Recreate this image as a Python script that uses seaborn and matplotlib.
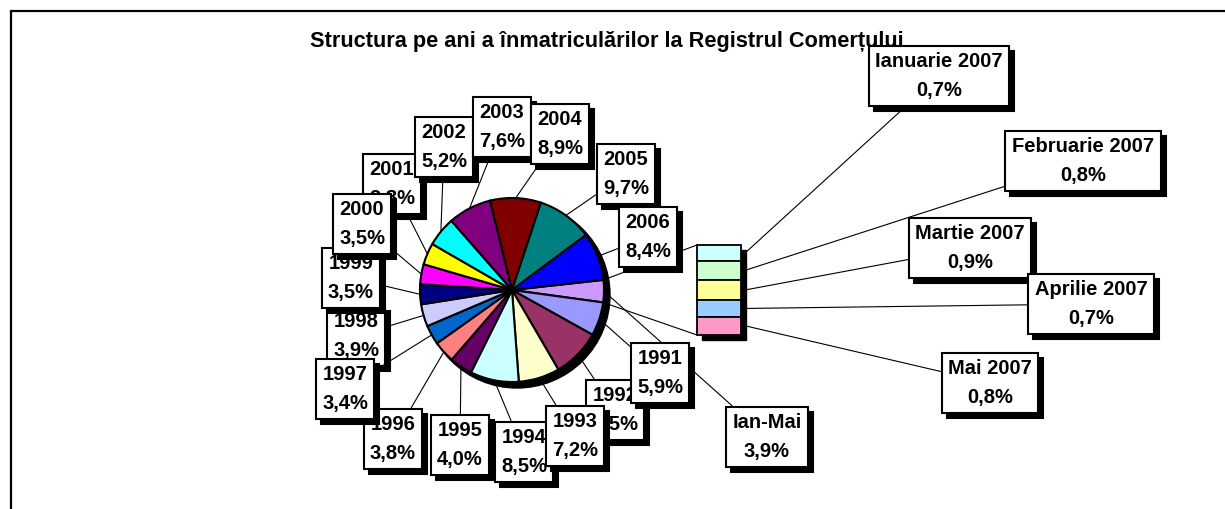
import seaborn as sns
import numpy as np
import matplotlib.pyplot as plt
from matplotlib.patches import Circle, Rectangle

# slices of the pie (clockwise, starting with the Jan-May 2007 slice)
categorii = ['Ian-Mai', '1991', '1992', '1993', '1994', '1995', '1996', '1997',
             '1998', '1999', '2000', '2001', '2002', '2003', '2004', '2005', '2006']
procente = [3.9, 5.9, 8.5, 7.2, 8.5, 4.0, 3.8, 3.4, 3.9, 3.5, 3.5, 3.8, 5.2, 7.6, 8.9, 9.7, 8.4]
culori = ['#CC99FF', '#9999FF', '#993366', '#FFFFCC', '#CCFFFF', '#660066', '#FF8080',
          '#0066CC', '#CCCCFF', '#000080', '#FF00FF', '#FFFF00', '#00FFFF', '#800080',
          '#800000', '#008080', '#0000FF']

# breakdown of the Jan-May 2007 slice (bar of pie)
luni = ['Ianuarie 2007', 'Februarie 2007', 'Martie 2007', 'Aprilie 2007', 'Mai 2007']
procente_luni = [0.7, 0.8, 0.9, 0.7, 0.8]
culori_luni = ['#CCFFFF', '#CCFFCC', '#FFFF99', '#99CCFF', '#FF99CC']

titlu = 'Structura pe ani a înmatriculărilor la Registrul Comerțului'

# label box centres in pixels (x, y from top)
poz_pie = {'Ian-Mai': (767, 437), '1991': (660, 373), '1992': (615, 410), '1993': (575, 436),
           '1994': (524, 452), '1995': (460, 445), '1996': (393, 439), '1997': (345, 389),
           '1998': (356, 336), '1999': (351, 278), '2000': (362, 224), '2001': (392, 184),
           '2002': (444, 147), '2003': (502, 127), '2004': (560, 134), '2005': (626, 174),
           '2006': (648, 237)}
poz_luni = [(939, 76), (1083, 161), (970, 248), (1091, 304), (990, 383)]
in_spate = {'1992', '1994', '1998', '2001'}

W, H = 1225, 509


def P(x, y):
    return (x, H - y)


def fmt(v):
    return f'{v:.1f}'.replace('.', ',') + '%'


sns.set_theme(style='white')
plt.rcParams['font.family'] = ['Liberation Sans', 'DejaVu Sans']
plt.rcParams['text.color'] = 'black'

fig = plt.figure(figsize=(12.25, 5.09), dpi=100)
ax = fig.add_axes([0, 0, 1, 1])

# pie with shadow
cx, cy = P(512, 290)
R = 92
start = 6.3
ax.add_patch(Circle((cx + 5, cy - 5), R + 1, color='black', zorder=0.5))
wedges, _ = ax.pie(procente, colors=culori, startangle=start, counterclock=False,
                   radius=R, center=(cx, cy), frame=True,
                   wedgeprops=dict(edgecolor='black', linewidth=1.5))

# stacked bar for the months
x0, x1 = 697, 741
bar_top, bar_bot = 245, 335
scala = (bar_bot - bar_top) / sum(procente_luni)
ax.add_patch(Rectangle((x0 + 5, H - bar_bot - 5), x1 - x0, bar_bot - bar_top,
                       color='black', zorder=2.5))
cum = 0
mijloc_luni = []
for v, c in zip(procente_luni, culori_luni):
    h = v * scala
    b = H - bar_top - cum - h
    ax.bar((x0 + x1) / 2, h, width=x1 - x0, bottom=b, color=c,
           edgecolor='black', linewidth=1.3, zorder=3)
    mijloc_luni.append(b + h / 2)
    cum += h

# connectors pie -> bar
a_sus = np.deg2rad(start)
a_jos = np.deg2rad(start - 360 * procente[0] / sum(procente))
ax.plot([cx + R * np.cos(a_sus), x0], [cy + R * np.sin(a_sus), H - bar_top],
        color='black', lw=0.8, zorder=2)
ax.plot([cx + R * np.cos(a_jos), x0], [cy + R * np.sin(a_jos), H - bar_bot],
        color='black', lw=0.8, zorder=2)


def eticheta(text, xy, pos, z):
    stil = dict(ha='center', va='center', fontsize=14.5, fontweight='bold', linespacing=1.65)
    ax.text(pos[0] + 5, pos[1] - 5, text, color='black',
            bbox=dict(boxstyle='square,pad=0.32', fc='black', ec='black', lw=1.5),
            zorder=z, **stil)
    ax.annotate(text, xy=xy, xytext=pos, color='black',
                bbox=dict(boxstyle='square,pad=0.32', fc='white', ec='black', lw=1.5),
                arrowprops=dict(arrowstyle='-', color='black', lw=0.8,
                                shrinkA=0, shrinkB=0),
                zorder=z + 0.1, **stil)


ax.text(607, H - 41, titlu, ha='center', va='center', fontsize=15.7,
        fontweight='bold', color='black', zorder=4)

total = sum(procente)
cum = 0
for i, (cat, v) in enumerate(zip(categorii, procente)):
    mid = np.deg2rad(start - 360 * (cum + v / 2) / total)
    cum += v
    xy = (cx + R * np.cos(mid), cy + R * np.sin(mid))
    z = (5 if cat in in_spate else 10) + i * 0.2
    eticheta(f'{cat}\n{fmt(v)}', xy, P(*poz_pie[cat]), z)

for i, (luna, v) in enumerate(zip(luni, procente_luni)):
    eticheta(f'{luna}\n{fmt(v)}', (x1 + 4, mijloc_luni[i]), P(*poz_luni[i]), 20 + i * 0.2)

# chart area frame (only left and top edges fall inside the picture)
ax.plot([10.5, 10.5, W + 10], [-10, H - 10.5, H - 10.5], color='black', lw=1.6,
        solid_joinstyle='miter', zorder=1)

ax.set_xlim(0, W)
ax.set_ylim(0, H)
ax.set_aspect('auto')
ax.axis('off')
plt.savefig('out.png', dpi=100)
